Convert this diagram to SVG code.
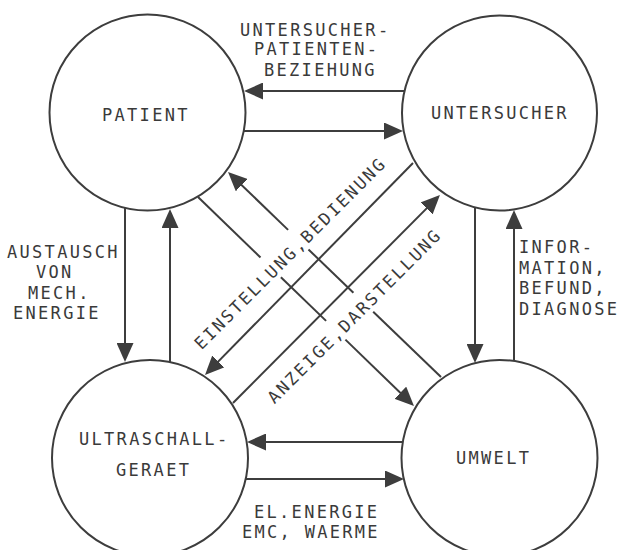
<svg xmlns="http://www.w3.org/2000/svg" width="619" height="550" viewBox="0 0 619 550">
<style>
.node{fill:none;stroke:#3d3d3d;stroke-width:2}
.c{stroke:#3d3d3d;stroke-width:2;fill:none}
.a{marker-end:url(#ah)}
text{font-family:"DejaVu Sans Mono","Liberation Mono",monospace;font-size:17px;fill:#3a3a3a;letter-spacing:2.3px}
</style>
<defs>
<marker id="ah" viewBox="0 0 19 17" refX="10" refY="8.5" markerWidth="19" markerHeight="17" orient="auto" markerUnits="userSpaceOnUse"><path d="M0,0 L19,8.5 L0,17 z" fill="#3d3d3d"/></marker>
</defs>
<rect width="619" height="550" fill="#fff"/>
<g id="patient"><circle class="node" cx="147.5" cy="112.5" r="98"/><text x="102" y="121">PATIENT</text></g>
<g id="untersucher"><circle class="node" cx="499.5" cy="113" r="97.5"/><text x="431" y="119">UNTERSUCHER</text></g>
<g id="ultraschallgeraet"><circle class="node" cx="150" cy="458" r="98"/><text x="79" y="445">ULTRASCHALL-</text><text x="116" y="476">GERAET</text></g>
<g id="umwelt"><circle class="node" cx="499.5" cy="458" r="98"/><text x="456" y="464">UMWELT</text></g>
<g id="connectors">
<line class="c a" x1="404" y1="91" x2="253" y2="91"/>
<line class="c a" x1="244" y1="131" x2="394" y2="131"/>
<line class="c a" x1="403" y1="442" x2="256" y2="442"/>
<line class="c a" x1="246" y1="479" x2="395" y2="479"/>
<line class="c a" x1="125" y1="208" x2="125" y2="353"/>
<line class="c a" x1="170" y1="362" x2="170" y2="218"/>
<line class="c a" x1="475" y1="208" x2="475" y2="354"/>
<line class="c a" x1="514" y1="361" x2="514" y2="219"/>
<line class="c a" x1="413" y1="163" x2="211.3" y2="368.6"/>
<line class="c a" x1="233" y1="403" x2="433.6" y2="201.4"/>
<line class="c a" x1="288.1" y1="229.9" x2="234.5" y2="178.2"/>
<line class="c" x1="308.5" y1="249.5" x2="353.4" y2="292.7"/>
<line class="c" x1="373.2" y1="311.8" x2="441" y2="377"/>
<line class="c" x1="198" y1="197" x2="260.5" y2="257.5"/>
<line class="c" x1="280.9" y1="277.2" x2="326.1" y2="320.9"/>
<line class="c a" x1="345.4" y1="339.6" x2="407.5" y2="399.7"/>
</g>
<g id="labels">
<text x="240" y="36">UNTERSUCHER-</text>
<text x="254" y="55">PATIENTEN-</text>
<text x="264" y="76">BEZIEHUNG</text>
<text x="519" y="253">INFOR-</text>
<text x="519" y="274">MATION,</text>
<text x="519" y="294">BEFUND,</text>
<text x="519" y="315">DIAGNOSE</text>
<text x="7" y="258">AUSTAUSCH</text>
<text x="36" y="278">VON</text>
<text x="28" y="299">MECH.</text>
<text x="13" y="319">ENERGIE</text>
<text x="254" y="518">EL.ENERGIE</text>
<text x="242" y="538">EMC, WAERME</text>
<text x="294.5" y="257.5" text-anchor="middle" transform="rotate(-45 294.5 257.5)">EINSTELLUNG,BEDIENUNG</text>
<text x="358.8" y="320.2" text-anchor="middle" transform="rotate(-45 358.8 320.2)">ANZEIGE,DARSTELLUNG</text>
</g>
</svg>
